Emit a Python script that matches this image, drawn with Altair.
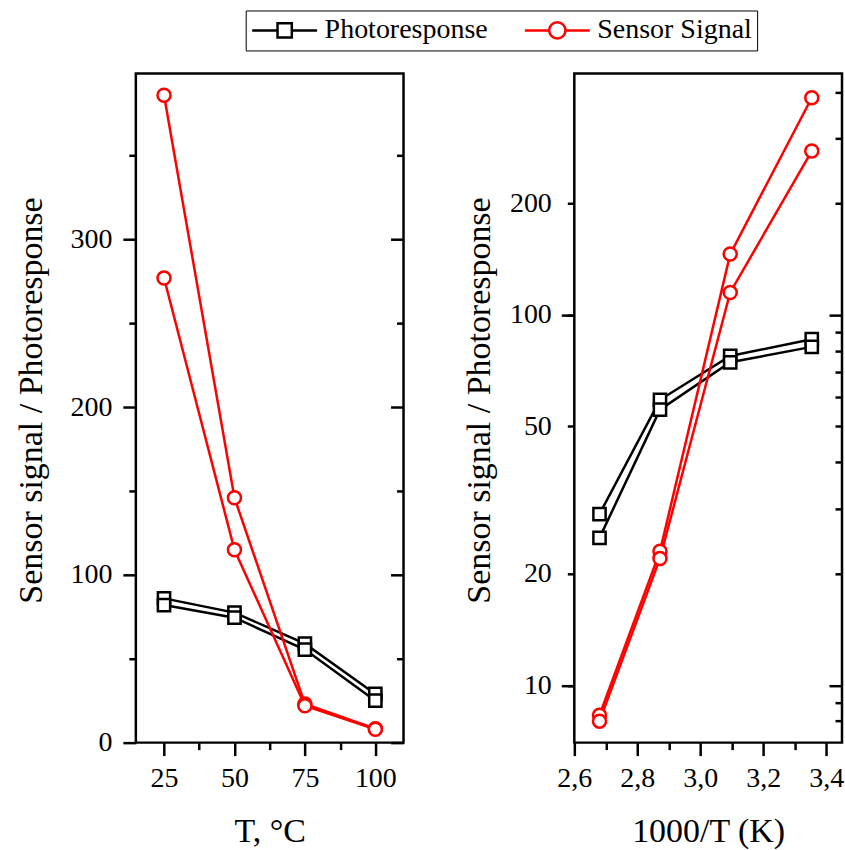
import altair as alt
import pandas as pd

# ---------------- data ----------------
series_names = ["Photoresponse", "Sensor Signal"]
temps_c = [25, 50, 75, 100]
inv_temp = [3.354, 3.095, 2.872, 2.680]
photo_run1 = [86, 77.5, 59, 29]
photo_run2 = [82, 74.5, 55.5, 25]
sensor_run1 = [386, 146, 23, 8.3]
sensor_run2 = [277, 115, 22, 8.0]

left_x_major = [25, 50, 75, 100]
left_x_minor = [37.5, 62.5, 87.5]
left_y_major = [0, 100, 200, 300]
left_y_minor = [50, 150, 250, 350]
right_x_major = [2.6, 2.8, 3.0, 3.2, 3.4]
right_x_minor = [2.7, 2.9, 3.1, 3.3]
right_y_labels = [10, 20, 50, 100, 200]
right_y_major = [10, 100]
right_y_minor = [8, 9, 20, 30, 40, 50, 60, 70, 80, 90, 200, 300, 400]

rows = []
for name, run, vals in [
    ("Photoresponse", "1", photo_run1),
    ("Photoresponse", "2", photo_run2),
    ("Sensor Signal", "1", sensor_run1),
    ("Sensor Signal", "2", sensor_run2),
]:
    for t, it, v in zip(temps_c, inv_temp, vals):
        rows.append(dict(series=name, run=run, T=t, invT=it, v=v))
df = pd.DataFrame(rows)
photo = df[df.series == "Photoresponse"]
sensor = df[df.series == "Sensor Signal"]

FONT = "Liberation Serif"
LW = 2.5
W, H = 268, 670

sq_path = ("M-1,0L-0.22,0M0.22,0L1,0"
           "M-0.22,-0.22L0.22,-0.22L0.22,0.22L-0.22,0.22Z")
ci_path = ("M-1,0L-0.25,0M0.25,0L1,0"
           "M-0.25,0A0.25,0.25,0,1,0,0.25,0A0.25,0.25,0,1,0,-0.25,0Z")


def tick_axis(orient, values, size, inside=False):
    kw = dict(orient=orient, values=values, tickSize=size, labels=False, title=None)
    if inside:
        kw["offset"] = -size
    return alt.Axis(**kw)


def panel(xf, xdom, ydom, ytype, x_main, y_main, x_extra, y_extra, legend=False):
    xs = alt.Scale(domain=xdom, nice=False, zero=False)
    ys = alt.Scale(type=ytype, domain=ydom, nice=False, zero=False)

    def X(ax):
        return alt.X(f"{xf}:Q", scale=xs, axis=ax)

    def Y(ax):
        return alt.Y("v:Q", scale=ys, axis=ax)

    layers = []
    layers.append(
        alt.Chart(photo).mark_line(color="black", strokeWidth=LW)
        .encode(x=X(x_main), y=Y(y_main), detail="run:N")
    )
    layers.append(
        alt.Chart(photo).mark_point(shape="square", filled=True, fill="white",
                                   stroke="black", strokeWidth=LW, size=150, opacity=1)
        .encode(x=X(None), y=Y(None))
    )
    layers.append(
        alt.Chart(sensor).mark_line(color="#ff0000", strokeWidth=LW)
        .encode(x=X(None), y=Y(None), detail="run:N")
    )
    layers.append(
        alt.Chart(sensor).mark_point(shape="circle", filled=True, fill="white",
                                    stroke="#ff0000", strokeWidth=LW, size=170, opacity=1)
        .encode(x=X(None), y=Y(None))
    )
    for ax in x_extra:
        layers.append(alt.Chart(df).mark_point(opacity=0).encode(x=X(ax), y=Y(None)))
    for ax in y_extra:
        layers.append(alt.Chart(df).mark_point(opacity=0).encode(x=X(None), y=Y(ax)))
    if legend:
        layers.append(
            alt.Chart(df).mark_point(opacity=0, filled=False, strokeWidth=LW)
            .encode(
                x=X(None), y=Y(None),
                color=alt.Color("series:N", scale=alt.Scale(domain=series_names, range=["black", "#ff0000"]),
                                legend=alt.Legend(
                                    orient="none", legendX=110, legendY=-63, direction="horizontal",
                                    title=None, labelFontSize=28, labelFont=FONT, labelColor="black",
                                    symbolSize=4225, symbolStrokeWidth=LW, clipHeight=30,
                                    strokeColor="black", fillColor="white", padding=5,
                                    columnPadding=35, labelOffset=6, labelLimit=400)),
                shape=alt.Shape("series:N", scale=alt.Scale(domain=series_names, range=[sq_path, ci_path]),
                                legend=None),
            )
        )
    return alt.layer(*layers).resolve_axis(x="independent", y="independent").properties(width=W, height=H)


YTITLE = "Sensor signal / Photoresponse"

left = panel(
    "T", [15, 110], [0, 399], "linear",
    alt.Axis(orient="bottom", values=left_x_major, tickSize=13, labelPadding=9, labelFlush=False,
             title="T, °C", titlePadding=22),
    alt.Axis(orient="left", values=left_y_major, tickSize=13, labelPadding=11,
             title=YTITLE, titlePadding=21, titleY=327),
    [tick_axis("bottom", left_x_minor, 7)],
    [tick_axis("left", left_y_minor, 7),
     tick_axis("right", left_y_major, 13, True),
     tick_axis("right", left_y_minor, 7, True)],
    legend=True,
)

right = panel(
    "invT", [2.6, 3.45], [7, 449], "log",
    alt.Axis(orient="bottom", values=right_x_major, tickSize=13, labelPadding=9, labelFlush=False,
             labelExpr="replace(format(datum.value, '.1f'), '.', ',')",
             title="1000/T (K)", titlePadding=22),
    alt.Axis(orient="left", values=right_y_labels, tickSize=7, labelPadding=16,
             labelExpr="format(datum.value, 'd')",
             title=YTITLE, titlePadding=13, titleY=327),
    [tick_axis("bottom", right_x_minor, 7)],
    [tick_axis("left", right_y_major, 13),
     tick_axis("right", right_y_major, 13, True),
     tick_axis("right", right_y_minor, 7, True)],
)

chart = (
    alt.hconcat(left, right, spacing=171, bounds="flush")
    .resolve_scale(color="independent", shape="independent")
    .properties(padding={"left": 13, "top": 8, "right": 0, "bottom": 0}, background="white")
    .configure(font=FONT)
    .configure_view(stroke="black", strokeWidth=LW)
    .configure_axis(domain=False, grid=False, tickColor="black", tickWidth=LW,
                    labelFont=FONT, labelFontSize=28, labelColor="black",
                    titleFont=FONT, titleFontSize=34, titleFontWeight="normal", titleColor="black")
)

chart.save("out.html", embed_options={"renderer": "svg", "actions": False})
